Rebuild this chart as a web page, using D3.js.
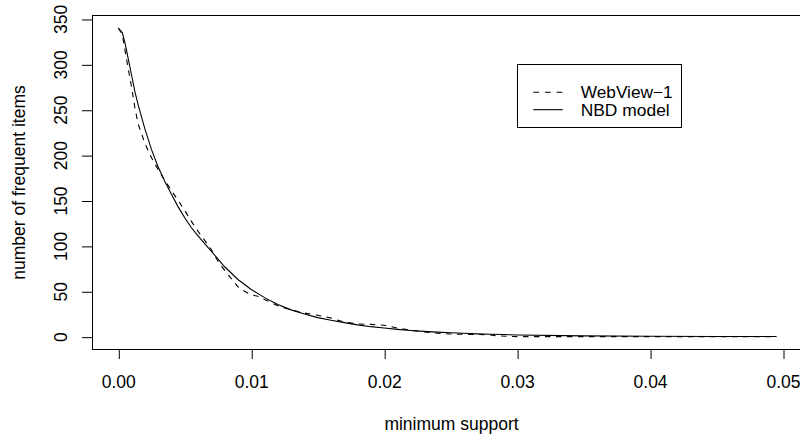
<!DOCTYPE html>
<html>
<head>
<meta charset="utf-8">
<script src="https://cdn.jsdelivr.net/npm/d3@7"></script>
<style>
  html, body { margin: 0; padding: 0; background: #fff; }
  svg { display: block; }
  text { font-family: "Liberation Sans", Arial, Helvetica, sans-serif; fill: #000; }
</style>
</head>
<body>
<svg id="chart" width="800" height="438"></svg>
<script>
// ---- data ----
const webSupport = [0, 0.0003, 0.0005, 0.00075, 0.001, 0.00125, 0.0015, 0.002, 0.0025, 0.003, 0.0035,
  0.004, 0.0045, 0.005, 0.0055, 0.006, 0.0065, 0.007, 0.0075, 0.008, 0.0085, 0.009, 0.0095, 0.01,
  0.0105, 0.011, 0.012, 0.013, 0.014, 0.015, 0.016, 0.017, 0.018, 0.019, 0.02, 0.0205, 0.021, 0.022,
  0.023, 0.024, 0.025, 0.026, 0.027, 0.028, 0.0285, 0.03, 0.035, 0.04, 0.045, 0.0495];
const webCount = [340, 333, 316, 295, 275, 252, 234, 213, 197, 184, 172,
  161, 150, 139, 127, 116, 106, 96, 83, 73, 64, 55, 50, 46,
  44.5, 41, 34, 29.5, 26, 23.5, 20.5, 16, 14, 13.5, 12.5, 11, 9.5, 7,
  5.3, 3.7, 3, 2.6, 2.4, 2, 0.8, 0, 0, 0, 0, 0];

const nbdSupport = [0, 0.0003, 0.0005, 0.00075, 0.001, 0.00125, 0.0015, 0.002, 0.0025, 0.003, 0.0035,
  0.004, 0.0045, 0.005, 0.0055, 0.006, 0.007, 0.008, 0.009, 0.01, 0.011, 0.012, 0.013, 0.014, 0.015,
  0.016, 0.017, 0.018, 0.019, 0.02, 0.021, 0.022, 0.023, 0.024, 0.025, 0.026, 0.027, 0.028, 0.029,
  0.03, 0.035, 0.04, 0.045, 0.0495];
const nbdCount = [340, 335, 324, 306, 288, 270, 255, 229, 206, 187, 171,
  157, 143, 131, 120, 111, 94, 77, 63, 52, 43, 35.5, 29.5, 25, 21,
  18, 15.5, 13, 11, 9.5, 8, 6.8, 5.8, 5, 4.3, 3.7, 3.1, 2.7, 2.3,
  1.9, 0.9, 0.4, 0.2, 0.1];

const xTicks = [0, 0.01, 0.02, 0.03, 0.04, 0.05];
const yTicks = [0, 50, 100, 150, 200, 250, 300, 350];
const legendLabels = ["WebView\u22121", "NBD model"];
const xTitle = "minimum support";
const yTitle = "number of frequent items";

// ---- layout ----
const FS = 17.5;
const LFS = 16.5;
const svg = d3.select("#chart");
const x = d3.scaleLinear().domain([-0.002, 0.052]).range([91.7, 809.6]);
const y = d3.scaleLinear().domain([-13.6, 353.6]).range([349.0, 15.7]);

const plotL = Math.round(x(-0.002)) + 0.5, plotR = Math.round(x(0.052)) + 0.5;
const plotT = Math.round(y(353.6)) - 0.5, plotB = Math.round(y(-13.6)) + 0.5;

// clip path
svg.append("clipPath").attr("id", "clip").append("rect")
  .attr("x", plotL).attr("y", plotT).attr("width", plotR - plotL).attr("height", plotB - plotT);

const line = d3.line().x(d => x(d[0])).y(d => y(d[1]));

const g = svg.append("g").attr("clip-path", "url(#clip)");
g.append("path")
  .datum(webSupport.map((s, i) => [s, webCount[i]]))
  .attr("d", line).attr("fill", "none").attr("stroke", "#000")
  .attr("stroke-width", 1.1).attr("stroke-dasharray", "5.5,5.5");
g.append("path")
  .datum(nbdSupport.map((s, i) => [s, nbdCount[i]]))
  .attr("d", line).attr("fill", "none").attr("stroke", "#000")
  .attr("stroke-width", 1.1);

// box
svg.append("rect").attr("x", plotL).attr("y", plotT)
  .attr("width", plotR - plotL).attr("height", plotB - plotT)
  .attr("fill", "none").attr("stroke", "#000").attr("stroke-width", 1);

// x axis
const xAxis = d3.axisBottom(x).tickValues(xTicks).tickSize(10).tickPadding(0)
  .tickFormat(d3.format(".2f"));
const xg = svg.append("g").attr("transform", `translate(0,${plotB - 0.5})`).call(xAxis);
xg.select(".domain").remove();
xg.selectAll(".tick line").attr("stroke", "#000").attr("transform", "translate(0.5,0)");
xg.selectAll(".tick text").attr("font-size", FS).attr("font-family", "Liberation Sans, Arial, sans-serif")
  .attr("y", 38.5).attr("dy", null).attr("fill", "#000");

// y axis
const yAxis = d3.axisLeft(y).tickValues(yTicks).tickSize(10).tickFormat(d3.format("d"));
const yg = svg.append("g").attr("transform", `translate(${plotL - 0.5},0)`).call(yAxis);
yg.select(".domain").remove();
yg.selectAll(".tick line").attr("stroke", "#000").attr("transform", "translate(0,0.5)");
yg.selectAll(".tick text").attr("font-size", FS).attr("font-family", "Liberation Sans, Arial, sans-serif")
  .attr("x", null).attr("dy", null).attr("fill", "#000")
  .attr("text-anchor", "middle")
  .attr("transform", `translate(${67 - (plotL - 0.5)},0) rotate(-90)`);

// axis titles
svg.append("text").attr("x", (plotL + plotR) / 2).attr("y", 430)
  .attr("text-anchor", "middle").attr("font-size", FS).text(xTitle);
svg.append("text")
  .attr("transform", `translate(25,${(plotT + plotB) / 2}) rotate(-90)`)
  .attr("text-anchor", "middle").attr("font-size", FS).text(yTitle);

// legend
const lg = svg.append("g");
lg.append("rect").attr("x", 517.5).attr("y", 64.5).attr("width", 164).attr("height", 63)
  .attr("fill", "#fff").attr("stroke", "#000").attr("stroke-width", 1);
const legendY = [92.3, 109.7];
const legendDash = ["5.8,5.8", null];
legendLabels.forEach((lab, i) => {
  lg.append("line").attr("x1", 533.3).attr("x2", 562.7)
    .attr("y1", legendY[i]).attr("y2", legendY[i])
    .attr("stroke", "#000").attr("stroke-width", 1.1)
    .attr("stroke-dasharray", legendDash[i]);
  lg.append("text").attr("x", 580.7).attr("y", legendY[i] + 5.9)
    .attr("font-size", LFS).attr("textLength", i === 0 ? 92 : 89).attr("lengthAdjust", "spacingAndGlyphs")
    .text(lab);
});
</script>
</body>
</html>
